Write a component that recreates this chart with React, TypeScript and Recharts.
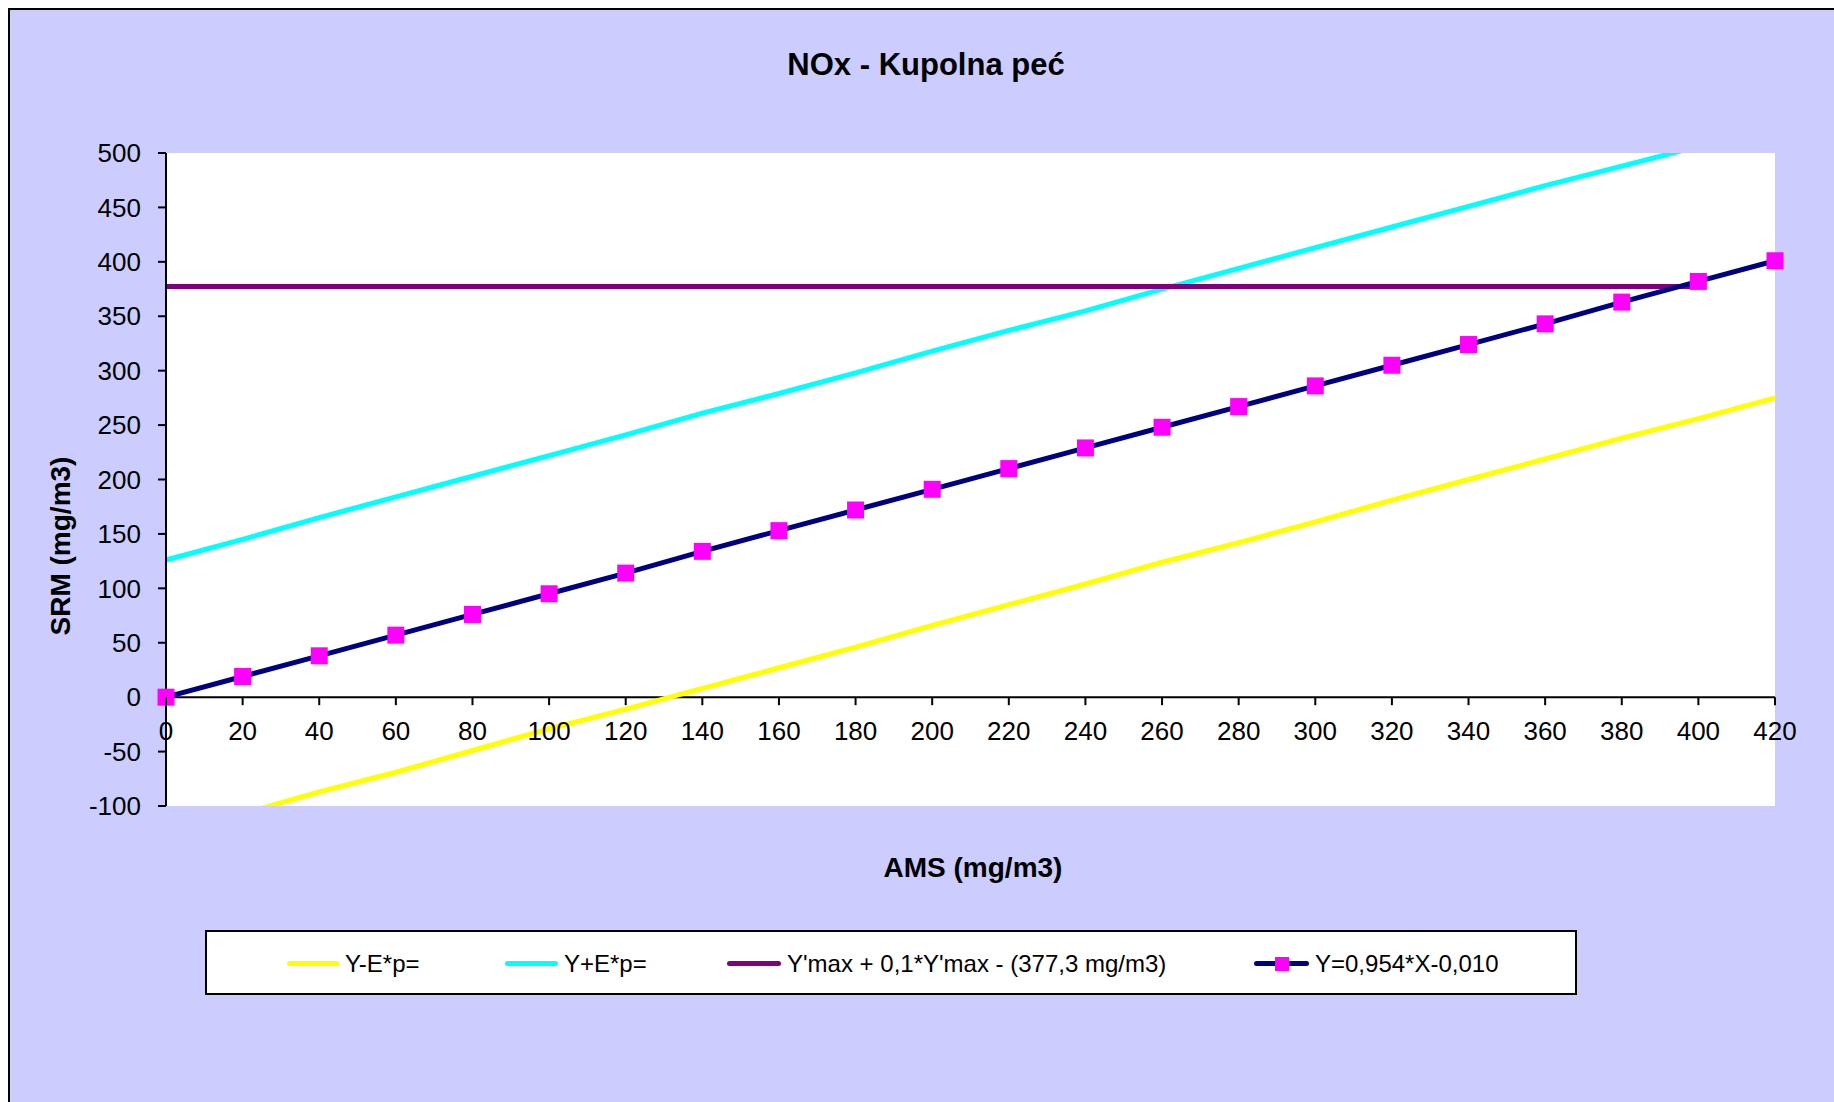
import React from 'react';
import { LineChart, Line, XAxis, YAxis, CartesianGrid, ReferenceLine } from 'recharts';

// ---- data ----
const xValues = [0, 20, 40, 60, 80, 100, 120, 140, 160, 180, 200, 220, 240, 260, 280, 300, 320, 340, 360, 380, 400, 420];
const lowerValues = [-126, -107, -87, -69, -49, -29, -11, 8, 27, 46, 66, 85, 104, 124, 142, 161, 181, 200, 219, 238, 256, 275];
const upperValues = [126, 145, 165, 184, 203, 222, 241, 261, 279, 298, 318, 337, 355, 375, 394, 413, 432, 451, 470, 488, 506, 526];
const limitValues = [377.3, 377.3, 377.3, 377.3, 377.3, 377.3, 377.3, 377.3, 377.3, 377.3, 377.3, 377.3, 377.3, 377.3, 377.3, 377.3, 377.3, 377.3, 377.3, 377.3, 377.3, null];
const fitValues = [0, 19, 38, 57, 76, 95, 114, 134, 153, 172, 191, 210, 229, 248, 267, 286, 305, 324, 343, 363, 382, 401];
const xTicks = [0, 20, 40, 60, 80, 100, 120, 140, 160, 180, 200, 220, 240, 260, 280, 300, 320, 340, 360, 380, 400, 420];
const yTicks = [-100, -50, 0, 50, 100, 150, 200, 250, 300, 350, 400, 450, 500];
const seriesNames = ['Y-E*p=', 'Y+E*p=', "Y'max + 0,1*Y'max - (377,3 mg/m3)", 'Y=0,954*X-0,010'];
const seriesColors = ['#FFFF00', '#00FFFF', '#800080', '#000080'];
const markerColor = '#FF00FF';
const title = 'NOx - Kupolna peć';
const xTitle = 'AMS (mg/m3)';
const yTitle = 'SRM (mg/m3)';
const Y_MIN = -100;
const Y_MAX = 500;

const data = xValues.map((x, i) => ({
  x,
  lower: lowerValues[i],
  upper: upperValues[i],
  limit: limitValues[i],
  fit: fitValues[i],
}));

// ---- layout ----
const W = 1826;
const H = 1094;
const M = { top: 145, right: 59, bottom: 266, left: 78 };
const Y_AXIS_W = 80;
const X_AXIS_H = 30;
const PLOT_H = H - M.top - M.bottom - X_AXIS_H;
const ZERO_SHIFT = (PLOT_H * (0 - Y_MIN)) / (Y_MAX - Y_MIN);
const FONT = 'Arial, "Liberation Sans", sans-serif';

const XTick = (props: any) => {
  const { x, y, payload } = props;
  const y0 = y - ZERO_SHIFT;
  return (
    <g>
      <line x1={x} x2={x} y1={y0} y2={y0 + 8} stroke="#000" strokeWidth={2} />
      <text x={x} y={y0 + 34} dy="0.355em" textAnchor="middle" fontSize={26} fontFamily={FONT} fill="#000">
        {payload.value}
      </text>
    </g>
  );
};

const SquareDot = (props: any) => {
  const { cx, cy, index } = props;
  if (cx == null || cy == null) return null;
  return <rect key={`sq-${index}`} x={cx - 8.5} y={cy - 8.5} width={17} height={17} fill={markerColor} />;
};

const legendLayout = [
  { line: 279, text: 337 },
  { line: 497, text: 556 },
  { line: 719, text: 779 },
  { line: 1246, text: 1307 },
];

export default function App() {
  const legendLeft = 197;
  const legendTop = 922;
  return (
    <div
      style={{
        position: 'absolute',
        left: 8,
        top: 8,
        width: W,
        height: H,
        background: '#CCCCFF',
        boxShadow: 'inset 2px 2px 0 #000',
        fontFamily: FONT,
        overflow: 'hidden',
      }}
    >
      <div
        style={{
          position: 'absolute',
          left: 0,
          width: 1836,
          top: 38,
          textAlign: 'center',
          fontSize: 31,
          fontWeight: 'bold',
          lineHeight: '38px',
          color: '#000',
        }}
      >
        {title}
      </div>
      <div
        style={{
          position: 'absolute',
          left: 465,
          width: 1000,
          top: 843,
          textAlign: 'center',
          fontSize: 28,
          fontWeight: 'bold',
          lineHeight: '34px',
          color: '#000',
        }}
      >
        {xTitle}
      </div>
      <div
        style={{
          position: 'absolute',
          left: 53 - 200,
          width: 400,
          top: 538 - 17,
          textAlign: 'center',
          fontSize: 28,
          fontWeight: 'bold',
          lineHeight: '34px',
          transform: 'rotate(-90deg)',
          color: '#000',
        }}
      >
        {yTitle}
      </div>
      <div style={{ position: 'absolute', left: 0, top: 0 }}>
        <LineChart width={W} height={H} data={data} margin={M}>
          <CartesianGrid fill="#FFFFFF" fillOpacity={1} stroke="none" horizontal={false} vertical={false} />
          <XAxis
            dataKey="x"
            type="number"
            domain={[0, 420]}
            ticks={xTicks}
            interval={0}
            height={X_AXIS_H}
            axisLine={false}
            tickLine={false}
            tickSize={0}
            tickMargin={0}
            tick={<XTick />}
          />
          <YAxis
            yAxisId="main"
            type="number"
            domain={[Y_MIN, Y_MAX]}
            ticks={yTicks}
            interval={0}
            width={Y_AXIS_W}
            allowDataOverflow
            axisLine={{ stroke: '#000', strokeWidth: 2 }}
            tickLine={{ stroke: '#000', strokeWidth: 2 }}
            tickSize={8}
            tickMargin={17}
            tick={{ fontSize: 26, fontFamily: FONT, fill: '#000' }}
          />
          <YAxis yAxisId="fit" orientation="right" width={0} type="number" domain={[Y_MIN, Y_MAX]} hide />
          <ReferenceLine yAxisId="main" y={0} stroke="#000" strokeWidth={2} />
          <Line yAxisId="main" dataKey="lower" name={seriesNames[0]} stroke={seriesColors[0]} strokeWidth={5} dot={false} isAnimationActive={false} />
          <Line yAxisId="main" dataKey="upper" name={seriesNames[1]} stroke={seriesColors[1]} strokeWidth={5} dot={false} isAnimationActive={false} />
          <Line yAxisId="main" dataKey="limit" name={seriesNames[2]} stroke={seriesColors[2]} strokeWidth={5} dot={false} isAnimationActive={false} />
          <Line yAxisId="fit" dataKey="fit" name={seriesNames[3]} stroke={seriesColors[3]} strokeWidth={5} dot={<SquareDot />} isAnimationActive={false} />
        </LineChart>
      </div>
      <div
        style={{
          position: 'absolute',
          left: legendLeft,
          top: legendTop,
          width: 1372,
          height: 65,
          background: '#FFFFFF',
          border: '2px solid #000',
          boxSizing: 'border-box',
        }}
      >
        {seriesNames.map((name, i) => (
          <React.Fragment key={name}>
            <div
              style={{
                position: 'absolute',
                left: legendLayout[i].line - legendLeft - 2,
                top: 34 - 2 - 3,
                width: legendLayout[i].text - legendLayout[i].line - 6,
                height: 5,
                borderRadius: 3,
                background: seriesColors[i],
              }}
            />
            {i === 3 && (
              <div
                style={{
                  position: 'absolute',
                  left: (legendLayout[i].line + legendLayout[i].text - 6) / 2 - legendLeft - 2 - 7,
                  top: 34 - 2 - 7,
                  width: 14,
                  height: 14,
                  background: markerColor,
                }}
              />
            )}
            <div
              style={{
                position: 'absolute',
                left: legendLayout[i].text - legendLeft - 2,
                top: 34 - 2 - 15,
                fontSize: 24,
                lineHeight: '30px',
                whiteSpace: 'nowrap',
                color: '#000',
              }}
            >
              {name}
            </div>
          </React.Fragment>
        ))}
      </div>
    </div>
  );
}
